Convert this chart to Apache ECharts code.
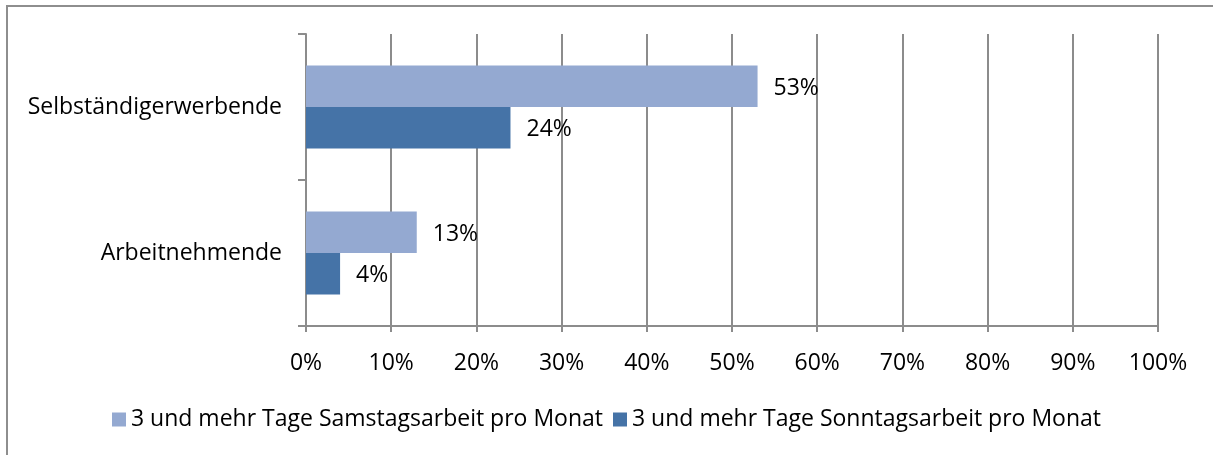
<!DOCTYPE html>
<html>
<head>
<meta charset="utf-8">
<script src="https://cdn.jsdelivr.net/npm/echarts@6/dist/echarts.min.js"></script>
<style>
html, body { margin: 0; padding: 0; background: #fff; }
#frame { position: absolute; left: 6px; top: 5px; width: 1400px; height: 600px;
  border-top: 2px solid #8e8e8e; border-left: 2px solid #8e8e8e; }
#main { position: absolute; left: 0; top: 0; width: 1213px; height: 455px; }
</style>
</head>
<body>
<div id="frame"></div>
<div id="main"></div>
<script>
// Kategorien (unten nach oben) und Werte in Prozent
var categories = ['Arbeitnehmende', 'Selbständigerwerbende'];
var samstag = [13, 53];
var sonntag = [4, 24];
var seriesNames = ['3 und mehr Tage Samstagsarbeit pro Monat', '3 und mehr Tage Sonntagsarbeit pro Monat'];

var myChart = echarts.init(document.getElementById('main'));
var fontFam = 'Open Sans, Noto Sans, sans-serif';
var fs = 23;

var option = {
    animation: false,
    textStyle: { fontFamily: fontFam },
    grid: { left: 306, right: 55, top: 34, bottom: 129 },
    legend: {
        bottom: 19,
        left: 'center',
        itemWidth: 14,
        itemHeight: 14,
        itemGap: 10,
        icon: 'rect',
        textStyle: { fontSize: fs, color: '#000', fontFamily: fontFam },
        data: seriesNames
    },
    xAxis: {
        type: 'value',
        min: 0,
        max: 100,
        interval: 10,
        axisLabel: { formatter: '{value}%', fontSize: fs, color: '#000', margin: 26 },
        axisLine: { show: true, lineStyle: { color: '#8c8c8c', width: 2 } },
        axisTick: { show: true, length: 6, lineStyle: { color: '#8c8c8c', width: 2 } },
        splitLine: { show: true, lineStyle: { color: '#8c8c8c', width: 2 } }
    },
    yAxis: {
        type: 'category',
        data: categories,
        axisLabel: { fontSize: fs, color: '#000', margin: 24 },
        axisLine: { show: true, lineStyle: { color: '#8c8c8c', width: 2 } },
        axisTick: { show: true, length: 8, lineStyle: { color: '#8c8c8c', width: 2 } },
        splitLine: { show: false }
    },
    series: [{
        name: seriesNames[0],
        type: 'bar',
        data: samstag,
        barGap: '0%',
        barCategoryGap: '43%',
        itemStyle: { color: '#94a9d1' },
        label: { show: true, position: 'right', distance: 16, offset: [0, 2], formatter: '{c}%', fontSize: fs, color: '#000' }
    }, {
        name: seriesNames[1],
        type: 'bar',
        data: sonntag,
        barGap: '0%',
        barCategoryGap: '43%',
        itemStyle: { color: '#4573a7' },
        label: { show: true, position: 'right', distance: 16, offset: [0, 2], formatter: '{c}%', fontSize: fs, color: '#000' }
    }]
};

myChart.setOption(option);
</script>
</body>
</html>
